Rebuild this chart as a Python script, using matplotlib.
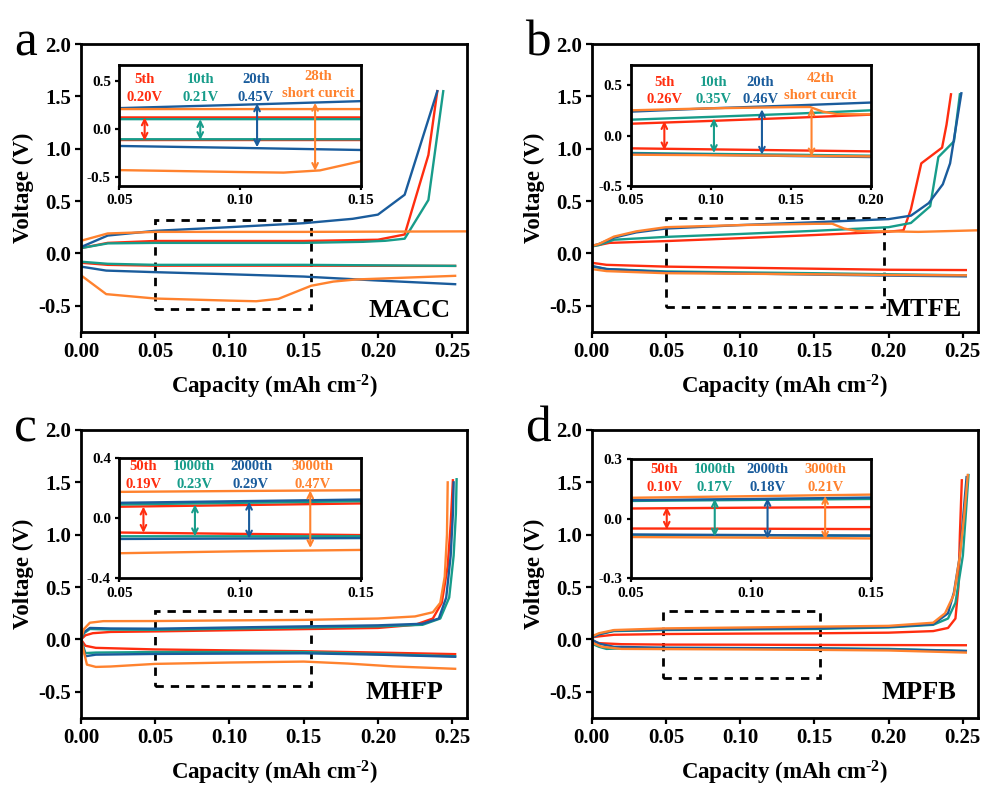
import matplotlib
matplotlib.use('Agg')
import matplotlib.pyplot as plt
from matplotlib.patches import Rectangle
import numpy as np

plt.rcParams['font.family'] = ['Liberation Serif', 'DejaVu Serif']
plt.rcParams['font.weight'] = 'bold'
plt.rcParams['axes.unicode_minus'] = False
plt.rcParams['mathtext.fontset'] = 'custom'
plt.rcParams['mathtext.rm'] = 'Liberation Serif:bold'
plt.rcParams['mathtext.default'] = 'rm'

RED, TEAL, BLUE, ORANGE = '#FF2D0F', '#179C8A', '#1A5C9C', '#FF822E'
COLORS = [RED, TEAL, BLUE, ORANGE]

# ---------------- a: MACC ----------------
a_chg_red = [(0, 0.05), (0.018, 0.10), (0.05, 0.118), (0.15, 0.118), (0.20, 0.13), (0.218, 0.18), (0.234, 0.94), (0.240, 1.55)]
a_dis_red = [(0, -0.09), (0.018, -0.11), (0.05, -0.118), (0.15, -0.118), (0.252, -0.12)]
a_chg_teal = [(0, 0.05), (0.018, 0.095), (0.05, 0.10), (0.15, 0.10), (0.19, 0.11), (0.205, 0.12), (0.218, 0.14), (0.234, 0.51), (0.244, 1.55)]
a_dis_teal = [(0, -0.08), (0.018, -0.10), (0.05, -0.11), (0.15, -0.11), (0.252, -0.12)]
a_chg_blue = [(0, 0.06), (0.018, 0.17), (0.05, 0.215), (0.10, 0.25), (0.15, 0.288), (0.183, 0.33), (0.20, 0.37), (0.218, 0.56), (0.240, 1.55)]
a_dis_blue = [(0, -0.127), (0.017, -0.165), (0.05, -0.18), (0.10, -0.20), (0.15, -0.222), (0.20, -0.26), (0.252, -0.295)]
a_chg_orange = [(0, 0.12), (0.018, 0.19), (0.05, 0.205), (0.15, 0.205), (0.26, 0.21)]
a_dis_orange = [(0, -0.21), (0.017, -0.39), (0.05, -0.432), (0.10, -0.452), (0.118, -0.458), (0.133, -0.435),
                (0.155, -0.31), (0.17, -0.27), (0.185, -0.25), (0.252, -0.215)]
a_cycles = ['5th', '10th', '20th', '28th']
a_gaps = ['0.20V', '0.21V', '0.45V', 'short curcit']
a_arrow_x = [0.0605, 0.0835, 0.107, 0.131]
a_arrow_lo = [-0.125, -0.118, -0.194, -0.44]
a_arrow_hi = [0.118, 0.10, 0.264, 0.27]
a_text_x = [0.0605, 0.0835, 0.1065, 0.1325]

# ---------------- b: MTFE ----------------
b_chg_red = [(0, 0.07), (0.005, 0.08), (0.012, 0.10), (0.05, 0.117), (0.10, 0.145), (0.15, 0.175), (0.20, 0.207),
             (0.21, 0.22), (0.215, 0.42), (0.222, 0.86), (0.236, 1.01), (0.239, 1.23), (0.242, 1.52)]
b_dis_red = [(0, -0.09), (0.01, -0.11), (0.05, -0.127), (0.10, -0.137), (0.15, -0.147), (0.20, -0.157), (0.252, -0.16)]
b_chg_teal = [(0, 0.065), (0.005, 0.08), (0.015, 0.13), (0.05, 0.157), (0.10, 0.185), (0.15, 0.215), (0.20, 0.25),
              (0.215, 0.29), (0.228, 0.45), (0.2335, 0.92), (0.244, 1.07), (0.248, 1.52)]
b_dis_teal = [(0, -0.125), (0.01, -0.15), (0.05, -0.173), (0.10, -0.182), (0.15, -0.19), (0.20, -0.20), (0.252, -0.21)]
b_chg_blue = [(0, 0.07), (0.005, 0.09), (0.015, 0.15), (0.03, 0.20), (0.05, 0.237), (0.10, 0.27), (0.15, 0.297),
              (0.20, 0.327), (0.215, 0.36), (0.227, 0.48), (0.2365, 0.66), (0.2414, 0.86), (0.249, 1.53)]
b_dis_blue = [(0, -0.12), (0.01, -0.15), (0.05, -0.18), (0.10, -0.192), (0.15, -0.203), (0.20, -0.213), (0.252, -0.22)]
b_chg_orange = [(0, 0.07), (0.005, 0.09), (0.015, 0.16), (0.03, 0.21), (0.05, 0.25), (0.10, 0.27), (0.15, 0.282),
                (0.162, 0.283), (0.17, 0.237), (0.179, 0.212), (0.20, 0.21), (0.22, 0.205), (0.26, 0.22)]
b_dis_orange = [(0, -0.15), (0.01, -0.17), (0.05, -0.19), (0.10, -0.195), (0.15, -0.20), (0.20, -0.207), (0.252, -0.21)]
b_cycles = ['5th', '10th', '20th', '42th']
b_gaps = ['0.26V', '0.35V', '0.46V', 'short curcit']
b_arrow_x = [0.071, 0.102, 0.132, 0.163]
b_arrow_lo = [-0.147, -0.173, -0.19, -0.207]
b_arrow_hi = [0.143, 0.17, 0.26, 0.277]
b_text_x = [0.071, 0.102, 0.131, 0.1685]

# ---------------- c: MHFP ----------------
c_chg_red = [(0, 0.0), (0.003, 0.04), (0.008, 0.06), (0.02, 0.072), (0.05, 0.077), (0.10, 0.088), (0.15, 0.099),
             (0.20, 0.11), (0.225, 0.14), (0.237, 0.20), (0.243, 0.35), (0.247, 0.70), (0.249, 1.10), (0.2505, 1.52)]
c_dis_red = [(0, 0.0), (0.003, -0.06), (0.01, -0.08), (0.05, -0.095), (0.10, -0.104), (0.15, -0.112), (0.20, -0.125), (0.252, -0.14)]
c_chg_teal = [(0, 0.0), (0.002, 0.06), (0.006, 0.10), (0.02, 0.095), (0.05, 0.092), (0.10, 0.103), (0.15, 0.114),
              (0.20, 0.125), (0.23, 0.14), (0.242, 0.20), (0.248, 0.40), (0.251, 0.80), (0.2525, 1.20), (0.253, 1.53)]
c_dis_teal = [(0, 0.0), (0.003, -0.13), (0.01, -0.125), (0.05, -0.12), (0.15, -0.12), (0.20, -0.14), (0.252, -0.16)]
c_chg_blue = [(0, 0.0), (0.002, 0.07), (0.006, 0.11), (0.02, 0.105), (0.05, 0.103), (0.10, 0.114), (0.15, 0.125),
              (0.20, 0.135), (0.23, 0.15), (0.241, 0.20), (0.246, 0.40), (0.249, 0.80), (0.2505, 1.20), (0.251, 1.50)]
c_dis_blue = [(0, 0.0), (0.003, -0.16), (0.01, -0.145), (0.05, -0.138), (0.15, -0.132), (0.20, -0.145), (0.252, -0.165)]
c_chg_orange = [(0, 0.0), (0.002, 0.10), (0.006, 0.16), (0.015, 0.175), (0.05, 0.176), (0.10, 0.182), (0.15, 0.187),
                (0.20, 0.20), (0.225, 0.22), (0.237, 0.26), (0.242, 0.35), (0.245, 0.60), (0.2465, 1.0), (0.247, 1.50)]
c_dis_orange = [(0, 0.0), (0.002, -0.12), (0.004, -0.24), (0.01, -0.262), (0.02, -0.258), (0.05, -0.233), (0.10, -0.22),
                (0.15, -0.211), (0.18, -0.23), (0.21, -0.257), (0.252, -0.28)]
c_cycles = ['50th', '1000th', '2000th', '3000th']
c_gaps = ['0.19V', '0.23V', '0.29V', '0.47V']
c_arrow_x = [0.06, 0.0813, 0.1037, 0.129]
c_arrow_lo = [-0.097, -0.12, -0.135, -0.198]
c_arrow_hi = [0.078, 0.092, 0.11, 0.185]
c_text_x = [0.06, 0.081, 0.1045, 0.13]

# ---------------- d: MPFB ----------------
d_chg_red = [(0, 0.02), (0.005, 0.03), (0.015, 0.045), (0.05, 0.052), (0.10, 0.056), (0.15, 0.059), (0.20, 0.065),
             (0.23, 0.08), (0.24, 0.11), (0.245, 0.20), (0.247, 0.50), (0.248, 1.0), (0.2493, 1.52)]
d_dis_red = [(0, -0.01), (0.005, -0.035), (0.02, -0.045), (0.05, -0.049), (0.10, -0.05), (0.15, -0.052), (0.252, -0.055)]
d_chg_teal = [(0, 0.02), (0.005, 0.05), (0.015, 0.08), (0.05, 0.09), (0.10, 0.095), (0.15, 0.10), (0.20, 0.115),
              (0.23, 0.14), (0.24, 0.20), (0.245, 0.35), (0.25, 0.80), (0.252, 1.20), (0.2538, 1.57)]
d_dis_teal = [(0, -0.04), (0.005, -0.07), (0.01, -0.09), (0.02, -0.085), (0.05, -0.082), (0.15, -0.085), (0.20, -0.09), (0.252, -0.11)]
d_chg_blue = [(0, 0.02), (0.005, 0.05), (0.015, 0.085), (0.05, 0.094), (0.10, 0.10), (0.15, 0.107), (0.20, 0.12),
              (0.23, 0.145), (0.24, 0.25), (0.244, 0.45), (0.248, 0.80), (0.251, 1.30), (0.2525, 1.55)]
d_dis_blue = [(0, 0.0), (0.005, -0.04), (0.015, -0.07), (0.05, -0.079), (0.10, -0.082), (0.15, -0.085), (0.20, -0.095), (0.252, -0.11)]
d_chg_orange = [(0, 0.03), (0.005, 0.06), (0.015, 0.09), (0.05, 0.106), (0.10, 0.114), (0.15, 0.122), (0.20, 0.13),
                (0.23, 0.16), (0.238, 0.25), (0.244, 0.43), (0.248, 0.80), (0.251, 1.20), (0.2533, 1.57)]
d_dis_orange = [(0, -0.03), (0.007, -0.07), (0.02, -0.09), (0.05, -0.092), (0.10, -0.095), (0.15, -0.099), (0.20, -0.105), (0.252, -0.125)]
d_cycles = ['50th', '1000th', '2000th', '3000th']
d_gaps = ['0.10V', '0.17V', '0.18V', '0.21V']
d_arrow_x = [0.065, 0.085, 0.107, 0.131]
d_arrow_lo = [-0.055, -0.09, -0.10, -0.105]
d_arrow_hi = [0.06, 0.10, 0.105, 0.115]
d_text_x = [0.064, 0.085, 0.107, 0.131]

fig = plt.figure(figsize=(9.84, 7.9), dpi=100)


def style_axes(ax, size, ticklen, lw):
    for s in ax.spines.values():
        s.set_linewidth(lw)
    ax.tick_params(direction='out', length=ticklen, width=lw * 0.8, labelsize=size, pad=3)
    for lab in ax.get_xticklabels() + ax.get_yticklabels():
        lab.set_fontweight('bold')


def panel(main_pos, ins_pos, curves, name, letter, rect, ins_xlim, ins_ylim, ins_xt, ins_yt,
          cycles, gaps, arr_x, arr_lo, arr_hi, txt_x, txt_y1, txt_y2, name_xy):
    ax = fig.add_axes(main_pos)
    for i, c in enumerate(curves):
        p = np.array(c)
        ax.plot(p[:, 0], p[:, 1], color=COLORS[i // 2], lw=1.7)
    ax.set_xlim(0, 0.26)
    ax.set_ylim(-0.75, 2.0)
    ax.set_xticks([0, 0.05, 0.10, 0.15, 0.20, 0.25])
    ax.set_xticklabels(['%.2f' % v for v in ax.get_xticks()])
    ax.set_yticks([-0.5, 0, 0.5, 1.0, 1.5, 2.0])
    ax.set_yticklabels(['%.1f' % v for v in ax.get_yticks()])
    style_axes(ax, 15, 4, 2)
    ax.set_xlabel(r'Capacity (mAh cm$^{\text{-2}}$)', fontsize=16.5, fontweight='bold', labelpad=8)
    ax.set_ylabel('Voltage (V)', fontsize=16.5, fontweight='bold', labelpad=3)
    ax.add_patch(Rectangle((rect[0], rect[1]), rect[2] - rect[0], rect[3] - rect[1], fill=False,
                           ec='black', lw=2, ls=(0, (3, 2.5))))
    ax.text(name_xy[0], name_xy[1], name, transform=ax.transAxes, ha='right', va='bottom',
            fontsize=19, fontweight='bold')
    fig.text(main_pos[0] - 0.068, main_pos[1] + main_pos[3] - 0.014, letter, fontsize=37,
             fontweight='normal', va='baseline', ha='left')

    ins = fig.add_axes(ins_pos)
    for i, c in enumerate(curves):
        p = np.array(c)
        ins.plot(p[:, 0], p[:, 1], color=COLORS[i // 2], lw=1.7)
    ins.set_xlim(*ins_xlim)
    ins.set_ylim(*ins_ylim)
    ins.set_xticks(ins_xt)
    ins.set_xticklabels(['%.2f' % v for v in ins_xt])
    ins.set_yticks(ins_yt)
    ins.set_yticklabels(['%.1f' % v for v in ins_yt])
    style_axes(ins, 11, 3, 2)
    for i in range(4):
        ins.annotate('', xy=(arr_x[i], arr_hi[i]), xytext=(arr_x[i], arr_lo[i]),
                     arrowprops=dict(arrowstyle='<->', color=COLORS[i], lw=1.5, shrinkA=0, shrinkB=0,
                                     mutation_scale=10))
        y1, y2 = txt_y1, txt_y2
        if gaps[i] == 'short curcit':
            y1, y2 = txt_y1 + 0.035, txt_y2 + 0.035
        ins.text(txt_x[i], y1, cycles[i], color=COLORS[i], ha='center', va='center',
                 fontsize=10.5, fontweight='bold')
        ins.text(txt_x[i], y2, gaps[i], color=COLORS[i], ha='center', va='center',
                 fontsize=10.5, fontweight='bold')
    return ax, ins


a_curves = [a_chg_red, a_dis_red, a_chg_teal, a_dis_teal, a_chg_blue, a_dis_blue, a_chg_orange, a_dis_orange]
b_curves = [b_chg_red, b_dis_red, b_chg_teal, b_dis_teal, b_chg_blue, b_dis_blue, b_chg_orange, b_dis_orange]
c_curves = [c_chg_red, c_dis_red, c_chg_teal, c_dis_teal, c_chg_blue, c_dis_blue, c_chg_orange, c_dis_orange]
d_curves = [d_chg_red, d_dis_red, d_chg_teal, d_dis_teal, d_chg_blue, d_dis_blue, d_chg_orange, d_dis_orange]

panel([0.0823, 0.580, 0.3923, 0.3642], [0.1212, 0.7649, 0.2457, 0.1528], a_curves, 'MACC', 'a',
      (0.05, -0.53, 0.155, 0.32), (0.05, 0.15), (-0.595, 0.665), [0.05, 0.10, 0.15], [-0.5, 0, 0.5],
      a_cycles, a_gaps, a_arrow_x, a_arrow_lo, a_arrow_hi, a_text_x, 0.515, 0.33, (0.957, 0.035))
panel([0.6013, 0.580, 0.3923, 0.3642], [0.641, 0.7646, 0.2439, 0.1532], b_curves, 'MTFE', 'b',
      (0.05, -0.515, 0.197, 0.335), (0.05, 0.20), (-0.5, 0.7), [0.05, 0.10, 0.15, 0.20], [-0.5, 0, 0.5],
      b_cycles, b_gaps, b_arrow_x, b_arrow_lo, b_arrow_hi, b_text_x, 0.53, 0.36, (0.958, 0.037))
panel([0.0823, 0.0911, 0.3923, 0.3646], [0.1212, 0.2680, 0.2457, 0.1519], c_curves, 'MHFP', 'c',
      (0.05, -0.445, 0.155, 0.27), (0.05, 0.15), (-0.4, 0.4), [0.05, 0.10, 0.15], [-0.4, 0, 0.4],
      c_cycles, c_gaps, c_arrow_x, c_arrow_lo, c_arrow_hi, c_text_x, 0.345, 0.224, (0.938, 0.048))
panel([0.6013, 0.0911, 0.3923, 0.3646], [0.641, 0.2680, 0.2439, 0.1506], d_curves, 'MPFB', 'd',
      (0.048, -0.365, 0.154, 0.27), (0.05, 0.15), (-0.3, 0.3), [0.05, 0.10, 0.15], [-0.3, 0, 0.3],
      d_cycles, d_gaps, d_arrow_x, d_arrow_lo, d_arrow_hi, d_text_x, 0.25, 0.159, (0.946, 0.049))

fig.savefig('out.png', dpi=100)
